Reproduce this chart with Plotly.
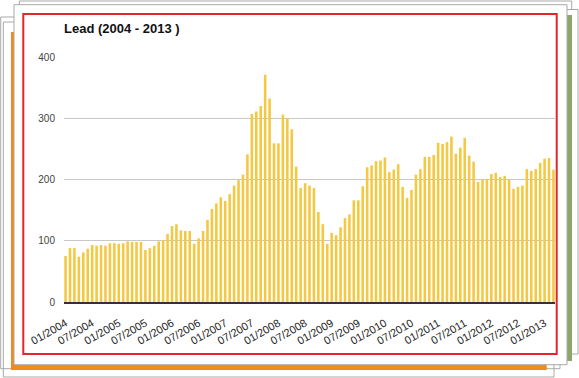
import plotly.graph_objects as go

# ---- data ----
years = list(range(2004, 2014))
months = [f"{m:02d}/{y}" for y in years for m in range(1, 13)][:111]  # 01/2004 .. 03/2013
lead = [75, 88, 88, 74, 81, 87, 93, 92, 93, 92,
        96, 96, 95, 96, 99, 98, 98, 98, 85, 88,
        92, 99, 101, 111, 124, 127, 117, 116, 116, 95,
        104, 116, 134, 152, 161, 171, 165, 176, 190, 199,
        208, 241, 307, 311, 320,
        371, 332, 259, 259, 306, 299, 282, 221, 186, 194,
        190, 186, 147, 127, 95, 113, 109, 122, 137, 143,
        166, 166, 189, 220, 223, 230, 231, 236, 212, 216,
        225,
        188, 170, 183, 208, 217, 237, 237, 240, 260, 258,
        261, 270, 242, 252, 268, 239, 229, 196, 200, 201,
        209, 211, 204, 206, 200, 185, 188, 190, 217, 214,
        217, 227, 234, 235, 216]
tick_labels = months[::6]
y_ticks = [0, 100, 200, 300, 400]

# ---- geometry helpers (pixel -> paper) ----
W, H = 579, 378
L, R, T, B = 64, 555, 57, 302
def px(x):
    return (x - L) / (R - L)
def py(y):
    return (B - y) / (B - T)

def rect(x0, y0, x1, y1, fill=None, line=None, lw=1):
    d = dict(type="rect", xref="paper", yref="paper",
             x0=px(x0), x1=px(x1), y0=py(y1), y1=py(y0), layer="below")
    d["fillcolor"] = fill if fill else "rgba(0,0,0,0)"
    d["line"] = dict(color=line if line else "rgba(0,0,0,0)", width=lw if line else 0)
    return d

grey = "#a9a9a9"
shapes = [
    rect(3.3, 22, 554, 377, fill="white"),
    rect(0.7, 17, 560, 368.7, fill="white"),
    rect(3.3, 22, 554, 377, line=grey),
    rect(0.7, 17, 560, 368.7, line=grey),
    rect(11, 32, 546.7, 370, fill="#f28a1f"),
    rect(19.3, 1, 571.7, 200, fill="white", line=grey),
    rect(200, 9.5, 578, 354, fill="white", line=grey),
    rect(500, 15, 572, 361, fill="#8fa66b"),
    rect(14, 4.7, 567, 364.7, fill="white", line=grey),
    rect(23.3, 14, 556.7, 354, line="#e3252c", lw=2),
]

fig = go.Figure(go.Bar(x=months, y=lead, marker=dict(color="#f5c842", line=dict(width=0))))

fig.update_layout(
    width=W, height=H,
    margin=dict(l=L, r=W - R, t=T, b=H - B, pad=0),
    paper_bgcolor="white", plot_bgcolor="rgba(0,0,0,0)",
    bargap=0.42, showlegend=False,
    font=dict(family="Liberation Sans, Arial, sans-serif", size=10, color="#333"),
    title=dict(text="<b>Lead (2004 - 2013 )</b>", x=px(64), xanchor="left",
               xref="paper", y=1 - 28 / H, yanchor="middle", yref="container",
               font=dict(size=13, color="#111")),
    shapes=shapes,
    xaxis=dict(type="category", range=[-0.35, 110.35], tickmode="array",
               tickvals=tick_labels, ticktext=tick_labels, tickangle=-30,
               showgrid=False, ticks="", showline=True, linecolor="#333",
               linewidth=1.5, zeroline=False, layer="above traces",
               ticklabelstandoff=9,
               tickfont=dict(size=11, color="#222")),
    yaxis=dict(range=[0, 400], tickvals=y_ticks, showgrid=True,
               gridcolor="#c8c8c8", gridwidth=1, zeroline=False, ticks="",
               ticklabelstandoff=8, tickfont=dict(size=10, color="#444")),
)

fig.write_html("out.html", config={"displayModeBar": False},
               post_script="document.body.style.margin='0px';document.body.style.overflow='hidden';")
